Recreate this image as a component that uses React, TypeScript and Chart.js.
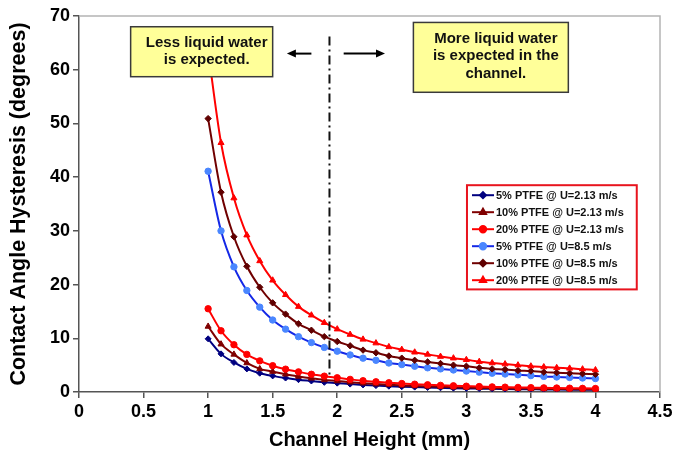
import React, { useEffect, useRef } from "react";
import { Chart, registerables } from "chart.js";
import { drawPoint } from "chart.js/helpers";

Chart.register(...registerables);

const FONT = 'Arial, "Liberation Sans", Helvetica, sans-serif';

// Channel height (mm)
const heights = [1.0, 1.1, 1.2, 1.3, 1.4, 1.5, 1.6, 1.7, 1.8, 1.9, 2.0, 2.1, 2.2, 2.3, 2.4, 2.5, 2.6, 2.7, 2.8, 2.9, 3.0, 3.1, 3.2, 3.3, 3.4, 3.5, 3.6, 3.7, 3.8, 3.9, 4.0];

// Contact angle hysteresis (degrees), U = 2.13 m/s
const ptfe5Low = [9.9, 7.1, 5.5, 4.3, 3.5, 3.0, 2.6, 2.3, 2.05, 1.8, 1.65, 1.47, 1.32, 1.19, 1.08, 0.99, 0.91, 0.84, 0.78, 0.72, 0.67, 0.63, 0.59, 0.56, 0.53, 0.5, 0.48, 0.45, 0.43, 0.42, 0.4];
const ptfe10Low = [12.2, 8.9, 7.0, 5.4, 4.3, 3.8, 3.3, 2.9, 2.55, 2.25, 2.05, 1.82, 1.63, 1.47, 1.33, 1.22, 1.12, 1.04, 0.96, 0.89, 0.83, 0.78, 0.73, 0.69, 0.65, 0.62, 0.59, 0.56, 0.54, 0.52, 0.5];
const ptfe20Low = [15.5, 11.4, 8.8, 7.0, 5.8, 4.9, 4.25, 3.75, 3.3, 2.95, 2.65, 2.35, 2.1, 1.9, 1.72, 1.58, 1.45, 1.34, 1.24, 1.15, 1.08, 1.01, 0.95, 0.9, 0.85, 0.81, 0.77, 0.74, 0.71, 0.68, 0.65];

// Contact angle hysteresis (degrees), U = 8.5 m/s
const ptfe5High = [41.1, 30.0, 23.3, 18.9, 15.8, 13.4, 11.7, 10.3, 9.2, 8.3, 7.6, 6.9, 6.3, 5.9, 5.4, 5.1, 4.8, 4.5, 4.3, 4.1, 3.9, 3.7, 3.5, 3.35, 3.2, 3.05, 2.9, 2.8, 2.7, 2.6, 2.5];
const ptfe10High = [50.9, 37.2, 28.9, 23.4, 19.5, 16.6, 14.5, 12.7, 11.5, 10.3, 9.4, 8.6, 7.8, 7.3, 6.7, 6.3, 5.9, 5.6, 5.3, 5.0, 4.8, 4.5, 4.3, 4.2, 4.0, 3.9, 3.7, 3.6, 3.5, 3.4, 3.3];
const ptfe20High = [63.5, 46.4, 36.1, 29.2, 24.4, 20.8, 18.1, 15.9, 14.3, 12.9, 11.7, 10.7, 9.8, 9.1, 8.4, 7.9, 7.4, 7.0, 6.6, 6.3, 6.0, 5.65, 5.4, 5.2, 5.0, 4.8, 4.65, 4.5, 4.4, 4.25, 4.1];

const seriesLabels = [
  "5% PTFE @ U=2.13 m/s",
  "10% PTFE @ U=2.13 m/s",
  "20% PTFE @ U=2.13 m/s",
  "5% PTFE @ U=8.5 m/s",
  "10% PTFE @ U=8.5 m/s",
  "20% PTFE @ U=8.5 m/s",
];

const xTitle = "Channel Height (mm)";
const yTitle = "Contact Angle Hysteresis (degrees)";
const xMax = 4.5;
const xStep = 0.5;
const yMax = 70;
const yStep = 10;

const leftNote = ["Less liquid water", "is expected."];
const rightNote = ["More liquid water", "is expected in the", "channel."];
const dividerHeight = 1.94;

type Style = { line: string; fill: string; point: string; radius: number };
const styles: Style[] = [
  { line: "#000080", fill: "#000080", point: "rectRot", radius: 3 },
  { line: "#800000", fill: "#800000", point: "triangle", radius: 3.5 },
  { line: "#ff0000", fill: "#ff0000", point: "circle", radius: 3.2 },
  { line: "#1428e6", fill: "#4a86ff", point: "circle", radius: 3.2 },
  { line: "#700000", fill: "#600000", point: "rectRot", radius: 3.2 },
  { line: "#ff0000", fill: "#ff0000", point: "triangle", radius: 3.5 },
];

const seriesValues = [ptfe5Low, ptfe10Low, ptfe20Low, ptfe5High, ptfe10High, ptfe20High];

function drawNote(ctx: CanvasRenderingContext2D, x: any, y: any, box: number[], lines: string[]) {
  const l = x.getPixelForValue(box[0]);
  const r = x.getPixelForValue(box[1]);
  const t = y.getPixelForValue(box[2]);
  const b = y.getPixelForValue(box[3]);
  ctx.fillStyle = "#ffff99";
  ctx.fillRect(l, t, r - l, b - t);
  ctx.strokeStyle = "#3a3a3a";
  ctx.lineWidth = 1.5;
  ctx.strokeRect(l, t, r - l, b - t);
  ctx.fillStyle = "#111";
  ctx.font = `bold 15px ${FONT}`;
  ctx.textAlign = "center";
  ctx.textBaseline = "middle";
  const cx = (l + r) / 2 + 5;
  lines.forEach((s, i) => ctx.fillText(s, cx, t + 16 + i * 17.5));
}

function drawArrow(ctx: CanvasRenderingContext2D, x0: number, x1: number, yy: number) {
  const dir = Math.sign(x1 - x0);
  ctx.strokeStyle = "#000";
  ctx.fillStyle = "#000";
  ctx.lineWidth = 2;
  ctx.beginPath();
  ctx.moveTo(x0, yy);
  ctx.lineTo(x1 - dir * 7, yy);
  ctx.stroke();
  ctx.beginPath();
  ctx.moveTo(x1, yy);
  ctx.lineTo(x1 - dir * 9, yy - 4);
  ctx.lineTo(x1 - dir * 9, yy + 4);
  ctx.closePath();
  ctx.fill();
}

const notesPlugin = {
  id: "notes",
  afterDatasetsDraw(chart: any) {
    const { ctx, chartArea: a, scales } = chart;
    const x = scales.x;
    const y = scales.y;
    ctx.save();

    // plot frame, top and right
    ctx.strokeStyle = "#b4b4b4";
    ctx.lineWidth = 1.5;
    ctx.beginPath();
    ctx.moveTo(a.left, a.top);
    ctx.lineTo(a.right, a.top);
    ctx.lineTo(a.right, a.bottom);
    ctx.stroke();

    // dash-dot divider
    const dx = x.getPixelForValue(dividerHeight);
    ctx.strokeStyle = "#111";
    ctx.lineWidth = 2;
    ctx.setLineDash([9, 4, 2, 4]);
    ctx.beginPath();
    ctx.moveTo(dx, y.getPixelForValue(66.2));
    ctx.lineTo(dx, y.getPixelForValue(3));
    ctx.stroke();
    ctx.setLineDash([]);

    // arrows either side of the divider
    const ay = y.getPixelForValue(63);
    drawArrow(ctx, x.getPixelForValue(1.8), x.getPixelForValue(1.61), ay);
    drawArrow(ctx, x.getPixelForValue(2.05), x.getPixelForValue(2.37), ay);

    drawNote(ctx, x, y, [0.4, 1.5, 68.0, 58.7], leftNote);
    drawNote(ctx, x, y, [2.59, 3.79, 68.8, 55.8], rightNote);

    // legend
    const ll = x.getPixelForValue(3.005);
    const lr = x.getPixelForValue(4.32);
    const lt = y.getPixelForValue(38.5);
    const lb = y.getPixelForValue(19.1);
    ctx.fillStyle = "#fff";
    ctx.fillRect(ll, lt, lr - ll, lb - lt);
    ctx.strokeStyle = "#e8141e";
    ctx.lineWidth = 2;
    ctx.strokeRect(ll, lt, lr - ll, lb - lt);
    ctx.font = `bold 11px ${FONT}`;
    ctx.textAlign = "left";
    ctx.textBaseline = "middle";
    seriesLabels.forEach((label, i) => {
      const st = styles[i];
      const ey = lt + 10 + i * 17;
      ctx.strokeStyle = st.line;
      ctx.lineWidth = 2;
      ctx.beginPath();
      ctx.moveTo(ll + 5, ey);
      ctx.lineTo(ll + 27, ey);
      ctx.stroke();
      ctx.fillStyle = st.fill;
      ctx.strokeStyle = st.fill;
      drawPoint(ctx, { pointStyle: st.point, radius: st.radius, rotation: 0, borderWidth: 1 } as any, ll + 16, ey);
      ctx.fillStyle = "#111";
      ctx.fillText(label, ll + 29, ey + 0.5);
    });

    ctx.restore();
  },
};

export default function App() {
  const ref = useRef<HTMLCanvasElement | null>(null);

  useEffect(() => {
    if (!ref.current) return;
    const datasets = seriesValues.map((vals, i) => ({
      label: seriesLabels[i],
      data: heights.map((h, k) => ({ x: h, y: vals[k] })),
      borderColor: styles[i].line,
      backgroundColor: styles[i].fill,
      pointBackgroundColor: styles[i].fill,
      pointBorderColor: styles[i].fill,
      pointStyle: styles[i].point,
      pointRadius: styles[i].radius,
      pointBorderWidth: 1,
      borderWidth: 2,
      cubicInterpolationMode: "monotone" as const,
      order: 5 - i,
    }));

    const chart = new Chart(ref.current, {
      type: "line",
      data: { datasets },
      plugins: [notesPlugin],
      options: {
        animation: false,
        responsive: false,
        events: [],
        layout: { padding: { top: 16, right: 16, left: 0, bottom: 0 } },
        plugins: { legend: { display: false }, tooltip: { enabled: false } },
        scales: {
          x: {
            type: "linear",
            min: 0,
            max: xMax,
            afterFit: (s: any) => {
              s.height = 62;
            },
            ticks: {
              stepSize: xStep,
              color: "#000",
              padding: 3,
              font: { family: FONT, size: 18, weight: "bold" },
              callback: (v: any) => String(Number(v)),
            },
            grid: { drawOnChartArea: false, drawTicks: true, tickLength: 6, color: "#555", lineWidth: 1.5 },
            border: { display: true, color: "#555", width: 1.5 },
            title: {
              display: true,
              text: xTitle,
              color: "#000",
              padding: { top: 0, bottom: 2 },
              font: { family: FONT, size: 20, weight: "bold" },
            },
          },
          y: {
            type: "linear",
            min: 0,
            max: yMax,
            afterFit: (s: any) => {
              s.width = 79;
            },
            ticks: {
              stepSize: yStep,
              color: "#000",
              padding: 3,
              font: { family: FONT, size: 18, weight: "bold" },
              callback: (v: any) => String(Number(v)),
            },
            grid: { drawOnChartArea: false, drawTicks: true, tickLength: 6, color: "#555", lineWidth: 1.5 },
            border: { display: true, color: "#555", width: 1.5 },
            title: {
              display: true,
              text: yTitle,
              color: "#000",
              padding: { top: 6, bottom: 0 },
              font: { family: FONT, size: 21.5, weight: "bold" },
            },
          },
        },
      },
    });
    return () => chart.destroy();
  }, []);

  return (
    <div style={{ position: "fixed", left: 0, top: 0, width: 676, height: 454, background: "#fff" }}>
      <canvas ref={ref} width={676} height={454} />
    </div>
  );
}
